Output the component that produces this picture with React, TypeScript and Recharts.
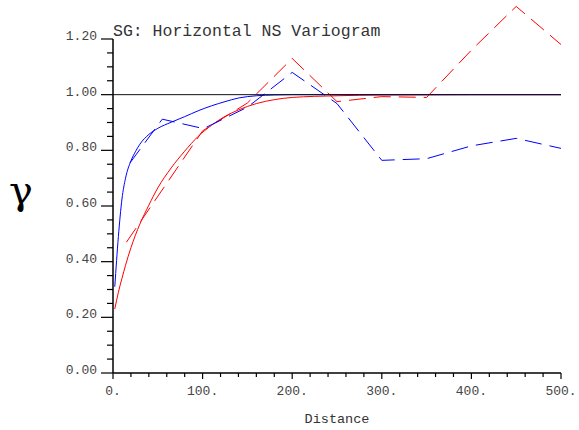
import { LineChart, Line, XAxis, YAxis, ReferenceLine } from "recharts";

// experimental variogram lags (distance) and gamma values
const redLags = [15, 100, 150, 200, 250, 300, 350, 400, 450, 500];
const redGamma = [0.47, 0.87, 0.97, 1.13, 0.975, 0.993, 0.99, 1.16, 1.317, 1.18];

const blueLags = [19, 55, 101, 150, 200, 250, 300, 350, 400, 450, 500];
const blueGamma = [0.755, 0.912, 0.878, 0.955, 1.08, 0.968, 0.764, 0.77, 0.816, 0.843, 0.807];

// fitted model curves
const modelLags = [2, 6, 10, 14, 20, 25, 30, 40, 50, 65, 80, 95, 110, 125, 140, 160, 180, 200, 250, 300, 400, 500];
const redModel = [0.23, 0.29, 0.34, 0.387, 0.45, 0.495, 0.535, 0.603, 0.665, 0.737, 0.797, 0.85, 0.89, 0.922, 0.945, 0.968, 0.982, 0.99, 0.996, 0.999, 1.0, 1.0];
const blueModel = [0.31, 0.49, 0.625, 0.7, 0.762, 0.795, 0.822, 0.857, 0.879, 0.901, 0.921, 0.942, 0.96, 0.975, 0.988, 0.996, 0.999, 1.0, 1.0, 1.0, 1.0, 1.0];

const sill = 1.0;

const xTicks = [0, 20, 40, 60, 80, 100, 120, 140, 160, 180, 200, 220, 240, 260, 280, 300, 320, 340, 360, 380, 400, 420, 440, 460, 480, 500];
const yTicks = [0, 0.05, 0.1, 0.15, 0.2, 0.25, 0.3, 0.35, 0.4, 0.45, 0.5, 0.55, 0.6, 0.65, 0.7, 0.75, 0.8, 0.85, 0.9, 0.95, 1.0, 1.05, 1.1, 1.15, 1.2];

const mono = "'Liberation Mono', 'Courier New', monospace";

const toPoints = (xs: number[], ys: number[]) => xs.map((x, i) => ({ x, y: ys[i] }));

const XTick = (props: any) => {
  const { x, y, payload } = props;
  const v = payload.value;
  const major = v % 100 === 0;
  return (
    <g>
      <line x1={x} x2={x} y1={y} y2={y + (major ? 6 : 4)} stroke="#000" strokeWidth={1.2} />
      {major && (
        <text x={x} y={y + 22} textAnchor="middle" fontFamily={mono} fontSize={13} fill="#444">
          {`${v}.`}
        </text>
      )}
    </g>
  );
};

const YTick = (props: any) => {
  const { x, y, payload } = props;
  const v = payload.value;
  const major = Math.abs(v * 5 - Math.round(v * 5)) < 1e-6;
  return (
    <g>
      <line x1={x - (major ? 12 : 6)} x2={x} y1={y} y2={y} stroke="#000" strokeWidth={1.2} />
      {major && (
        <text x={x - 16} y={y + 1} textAnchor="end" fontFamily={mono} fontSize={13} fill="#444">
          {v.toFixed(2)}
        </text>
      )}
    </g>
  );
};

export default function App() {
  return (
    <div style={{ position: "absolute", left: 0, top: 0, width: 579, height: 430, background: "#fff" }}>
      <style>{`.recharts-wrapper [clip-path] { clip-path: none !important; }`}</style>
      <LineChart width={579} height={430} margin={{ top: 39, right: 18, bottom: 27, left: 0 }}>
        <XAxis
          dataKey="x"
          type="number"
          domain={[0, 500]}
          ticks={xTicks}
          interval={0}
          allowDataOverflow
          tickSize={0}
          tickMargin={0}
          tickLine={false}
          tick={<XTick />}
          axisLine={{ stroke: "#000", strokeWidth: 1.5 }}
          height={30}
        />
        <YAxis
          type="number"
          domain={[0, 1.2]}
          ticks={yTicks}
          interval={0}
          allowDataOverflow
          tickSize={0}
          tickMargin={0}
          tickLine={false}
          tick={<YTick />}
          axisLine={{ stroke: "#000", strokeWidth: 1.5 }}
          width={113}
        />
        <Line
          data={toPoints(modelLags, redModel)}
          dataKey="y"
          type="monotone"
          stroke="#ff0000"
          strokeWidth={1}
          dot={false}
          isAnimationActive={false}
        />
        <Line
          data={toPoints(modelLags, blueModel)}
          dataKey="y"
          type="monotone"
          stroke="#0000ff"
          strokeWidth={1}
          dot={false}
          isAnimationActive={false}
        />
        <Line
          data={toPoints(redLags, redGamma)}
          dataKey="y"
          type="linear"
          stroke="#ff0000"
          strokeWidth={1}
          strokeDasharray="17 8"
          dot={false}
          isAnimationActive={false}
        />
        <Line
          data={toPoints(blueLags, blueGamma)}
          dataKey="y"
          type="linear"
          stroke="#0000ff"
          strokeWidth={1}
          strokeDasharray="17 8"
          dot={false}
          isAnimationActive={false}
        />
        <ReferenceLine y={sill} stroke="#111" strokeWidth={1} />
      </LineChart>
      <svg width={579} height={430} style={{ position: "absolute", left: 0, top: 0, pointerEvents: "none" }}>
        <text x={113} y={36} fontFamily={mono} fontSize={16.5} fill="#333">
          SG: Horizontal NS Variogram
        </text>
        <text x={9} y={204} fontFamily="'DejaVu Serif', serif" fontSize={40} fill="#000">
          γ
        </text>
        <text x={337} y={423} textAnchor="middle" fontFamily={mono} fontSize={13.5} fill="#333">
          Distance
        </text>
      </svg>
    </div>
  );
}
